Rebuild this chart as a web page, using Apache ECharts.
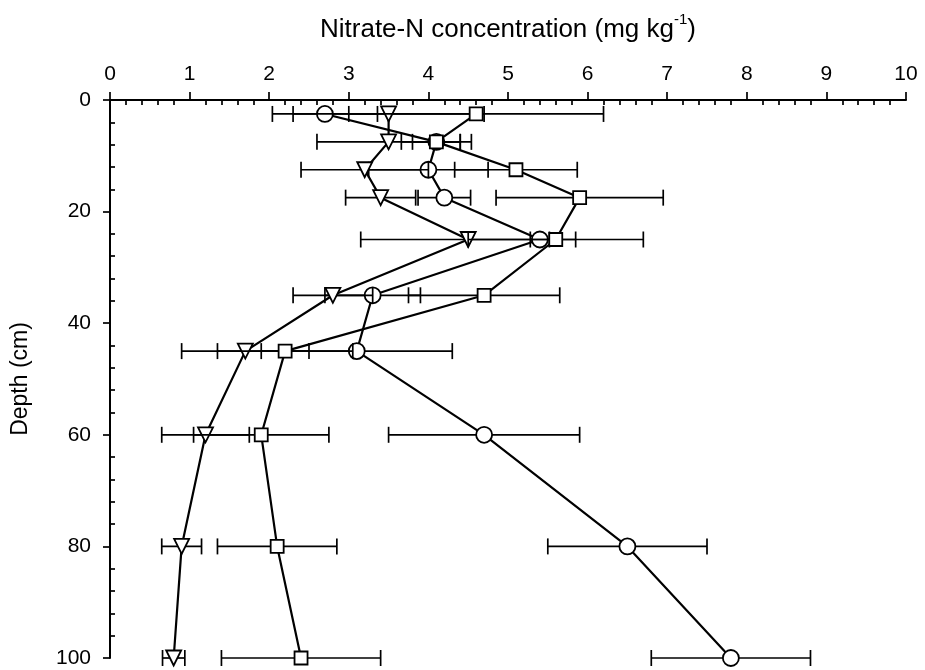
<!DOCTYPE html>
<html>
<head>
<meta charset="utf-8">
<script src="https://cdn.jsdelivr.net/npm/echarts@6/dist/echarts.min.js"></script>
<style>
  html, body { margin: 0; padding: 0; background: #fff; }
  #chart { width: 925px; height: 670px; }
</style>
</head>
<body>
<div id="chart"></div>
<script>
// Sampling depths (cm)
const depths = [2.5, 7.5, 12.5, 17.5, 25, 35, 45, 60, 80, 100];

// Nitrate-N means and standard deviations (mg kg-1), one pair per profile
const circleMean = [2.7, 4.1, 4.0, 4.2, 5.4, 3.3, 3.1, 4.7, 6.5, 7.8];
const circleSd   = [0.66, 0.3, 0.75, 0.33, 0.12, 0.6, 1.2, 1.2, 1.0, 1.0];

const triangleMean = [3.5, 3.5, 3.2, 3.4, 4.5, 2.8, 1.7, 1.2, 0.9, 0.8];
const triangleSd   = [1.2, 0.9, 0.8, 0.44, 1.35, 0.5, 0.8, 0.55, 0.25, 0.14];

const squareMean = [4.6, 4.1, 5.1, 5.9, 5.6, 4.7, 2.2, 1.9, 2.1, 2.4];
const squareSd   = [1.6, 0.44, 0.77, 1.05, 1.1, 0.95, 0.85, 0.85, 0.75, 1.0];

// Axis tick labels
const xTicks = [0, 1, 2, 3, 4, 5, 6, 7, 8, 9, 10];
const yTicks = [0, 20, 40, 60, 80, 100];

const FONT = '"Liberation Sans", Arial, sans-serif';
const INK = '#000';

function points(mean) {
  return depths.map((d, i) => [mean[i], d]);
}
function bars(mean, sd) {
  return depths.map((d, i) => [mean[i] - sd[i], mean[i] + sd[i], d]);
}

// Horizontal error bar with end caps
function renderErrorBar(params, api) {
  const lo = api.coord([api.value(0), api.value(2)]);
  const hi = api.coord([api.value(1), api.value(2)]);
  const cap = 8;
  const style = { stroke: INK, lineWidth: 1.7 };
  return {
    type: 'group',
    children: [
      { type: 'line', shape: { x1: lo[0], y1: lo[1], x2: hi[0], y2: hi[1] }, style },
      { type: 'line', shape: { x1: lo[0], y1: lo[1] - cap, x2: lo[0], y2: lo[1] + cap }, style },
      { type: 'line', shape: { x1: hi[0], y1: hi[1] - cap, x2: hi[0], y2: hi[1] + cap }, style }
    ]
  };
}

function errorSeries(mean, sd, z) {
  return {
    type: 'custom',
    xAxisIndex: 0,
    yAxisIndex: 0,
    renderItem: renderErrorBar,
    data: bars(mean, sd),
    encode: { x: [0, 1], y: 2 },
    clip: false,
    silent: true,
    z: z
  };
}

function profileSeries(mean, symbol, size, rotate, z) {
  return {
    type: 'line',
    xAxisIndex: 0,
    yAxisIndex: 0,
    data: points(mean),
    symbol: symbol,
    symbolSize: size,
    symbolRotate: rotate,
    showAllSymbol: true,
    clip: false,
    silent: true,
    lineStyle: { color: INK, width: 2.2 },
    itemStyle: { color: '#fff', borderColor: INK, borderWidth: 1.8 },
    z: z
  };
}

const grid = { left: 110, right: 19, top: 100, bottom: 12 };

const option = {
  animation: false,
  backgroundColor: '#fff',
  grid: grid,
  xAxis: [
    {
      type: 'value',
      position: 'top',
      min: xTicks[0],
      max: xTicks[xTicks.length - 1],
      interval: 1,
      name: '{t|Nitrate-N concentration (mg kg}{s|-1}{t|)}',
      nameLocation: 'middle',
      nameGap: 57,
      nameTextStyle: {
        rich: {
          t: { fontFamily: FONT, fontSize: 26, color: INK, verticalAlign: 'bottom', lineHeight: 31 },
          s: { fontFamily: FONT, fontSize: 15, color: INK, verticalAlign: 'top', lineHeight: 31 }
        }
      },
      axisLine: { show: true, onZero: false, lineStyle: { color: INK, width: 2 } },
      axisTick: { show: true, inside: false, length: 8, lineStyle: { color: INK, width: 1.7 } },
      axisLabel: { show: true, margin: 15, fontFamily: FONT, fontSize: 21, color: INK },
      splitLine: { show: false }
    },
    {
      // minor ticks pointing into the plot
      type: 'value',
      position: 'top',
      min: xTicks[0],
      max: xTicks[xTicks.length - 1],
      interval: 1,
      axisLine: { show: false },
      axisTick: { show: false, inside: true },
      axisLabel: { show: false },
      minorTick: { show: true, splitNumber: 5, length: 5, lineStyle: { color: INK, width: 1.7 } },
      splitLine: { show: false }
    }
  ],
  yAxis: [
    {
      type: 'value',
      inverse: true,
      min: yTicks[0],
      max: yTicks[yTicks.length - 1],
      interval: 20,
      name: 'Depth (cm)',
      nameLocation: 'middle',
      nameRotate: 90,
      nameGap: 78,
      nameTextStyle: { fontFamily: FONT, fontSize: 23, color: INK },
      axisLine: { show: true, onZero: false, lineStyle: { color: INK, width: 2 } },
      axisTick: { show: true, inside: false, length: 7, lineStyle: { color: INK, width: 1.7 } },
      axisLabel: { show: true, margin: 19, fontFamily: FONT, fontSize: 21, color: INK },
      splitLine: { show: false }
    },
    {
      type: 'value',
      inverse: true,
      min: yTicks[0],
      max: yTicks[yTicks.length - 1],
      interval: 20,
      position: 'left',
      axisLine: { show: false },
      axisTick: { show: false, inside: true },
      axisLabel: { show: false },
      minorTick: { show: true, splitNumber: 5, length: 5, lineStyle: { color: INK, width: 1.7 } },
      splitLine: { show: false }
    }
  ],
  series: [
    errorSeries(circleMean, circleSd, 2),
    profileSeries(circleMean, 'circle', 16, 0, 3),
    errorSeries(triangleMean, triangleSd, 4),
    profileSeries(triangleMean, 'triangle', 15, 180, 5),
    errorSeries(squareMean, squareSd, 6),
    profileSeries(squareMean, 'rect', 13, 0, 7)
  ]
};

const chart = echarts.init(document.getElementById('chart'), null, { renderer: 'canvas' });
chart.setOption(option);
</script>
</body>
</html>
